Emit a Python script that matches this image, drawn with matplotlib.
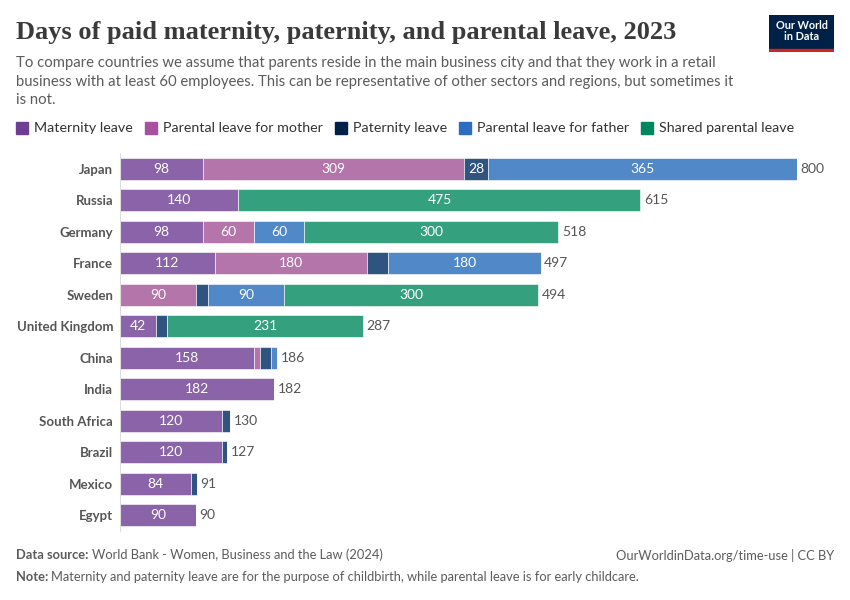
import numpy as np
import matplotlib.pyplot as plt
from matplotlib.patches import Rectangle

plt.rcParams['font.family'] = ['Lato', 'DejaVu Sans']

# --- Data (days of leave, 2023) ---
countries = ['Japan', 'Russia', 'Germany', 'France', 'Sweden', 'United Kingdom',
             'China', 'India', 'South Africa', 'Brazil', 'Mexico', 'Egypt']
maternity = [98, 140, 98, 112, 0, 42, 158, 182, 120, 120, 84, 90]
parental_mother = [309, 0, 60, 180, 90, 0, 7, 0, 0, 0, 0, 0]
paternity = [28, 0, 0, 25, 14, 14, 13, 0, 10, 7, 7, 0]
parental_father = [365, 0, 60, 180, 90, 0, 8, 0, 0, 0, 0, 0]
shared = [0, 475, 300, 0, 300, 231, 0, 0, 0, 0, 0, 0]

series_names = ['Maternity leave', 'Parental leave for mother', 'Paternity leave',
                'Parental leave for father', 'Shared parental leave']
series = [maternity, parental_mother, paternity, parental_father, shared]
bar_colors = ['#8a63a8', '#b475ab', '#2f5480', '#5088c8', '#34a07e']
legend_colors = ['#6d3e91', '#a652a0', '#002147', '#2c6cc1', '#00875e']

W, H = 850, 600
fig = plt.figure(figsize=(W / 100, H / 100), dpi=100)

def px(x, y):
    return x / W, 1 - y / H

def text_right_edge(t):
    fig.canvas.draw()
    return t.get_window_extent().x1

# --- Bars ---
ax_l, ax_r, ax_t, ax_b = 120, 797, 153.3, 530.7
ax = fig.add_axes([ax_l / W, 1 - ax_b / H, (ax_r - ax_l) / W, (ax_b - ax_t) / H])
n = len(countries)
y = np.arange(n)
left = np.zeros(n)
for vals, c in zip(series, bar_colors):
    vals = np.array(vals, dtype=float)
    ax.barh(y, vals, left=left, height=0.7, color=c, edgecolor='white', linewidth=0.4)
    for i, v in enumerate(vals):
        if v >= 27:
            ax.text(left[i] + v / 2, i, f'{int(v)}', ha='center', va='center',
                    color='white', fontsize=10)
    left += vals
for i, tot in enumerate(left):
    ax.text(tot + 4, i, f'{int(tot)}', ha='left', va='center', color='#555555', fontsize=10)

ax.set_xlim(0, 800)
ax.set_ylim(n - 0.5, -0.5)
ax.set_yticks(y)
ax.set_yticklabels(countries, fontsize=9.5, fontweight='bold', color='#555555')
ax.tick_params(axis='y', length=0, pad=5)
ax.set_xticks([])
for s in ['top', 'right', 'bottom']:
    ax.spines[s].set_visible(False)
ax.spines['left'].set_color('#dddddd')
ax.set_facecolor('none')

# --- Title & subtitle ---
title = fig.text(*px(16, 33), 'Days of paid maternity, paternity, and parental leave, 2023',
                 fontsize=18, fontweight='bold', family=['Liberation Serif', 'DejaVu Serif'],
                 color='#3a3a3a', va='center')
w = text_right_edge(title) - 16
title.set_fontsize(18 * 659 / w)
subtitle = ('To compare countries we assume that parents reside in the main business city and that they work in a retail\n'
            'business with at least 60 employees. This can be representative of other sectors and regions, but sometimes it\n'
            'is not.')
fig.text(*px(16, 56), subtitle, fontsize=10.7, color='#5b5b5b', va='top', linespacing=1.42)

# --- Logo ---
logo = fig.add_axes([769 / W, 1 - 52 / H, 65 / W, 37 / H])
logo.add_patch(Rectangle((0, 0.08), 1, 0.92, color='#002147'))
logo.add_patch(Rectangle((0, 0), 1, 0.08, color='#ce261e'))
logo.text(0.5, 0.56, 'Our World\nin Data', ha='center', va='center', color='white',
          fontsize=7.8, fontweight='bold', linespacing=1.0)
logo.set_xlim(0, 1)
logo.set_ylim(0, 1)
logo.axis('off')

# --- Legend ---
lx = 16
for name, c in zip(series_names, legend_colors):
    fig.patches.append(Rectangle(px(lx, 134), 12 / W, 12 / H, color=c, transform=fig.transFigure))
    t = fig.text(*px(lx + 18, 128), name, fontsize=10.3, color='#333333', va='center')
    lx = text_right_edge(t) + 12

# --- Footer ---
def footer(y, label, rest):
    b = fig.text(*px(16, y), label, fontsize=9.3, fontweight='bold', color='#5b5b5b', va='center')
    x = text_right_edge(b) + 3
    fig.text(*px(x, y), rest, fontsize=9.3, color='#5b5b5b', va='center')

footer(555, 'Data source:', 'World Bank - Women, Business and the Law (2024)')
footer(577, 'Note:', 'Maternity and paternity leave are for the purpose of childbirth, while parental leave is for early childcare.')
fig.text(*px(834, 555), 'OurWorldinData.org/time-use | CC BY', fontsize=9.3,
         color='#5b5b5b', va='center', ha='right')

fig.savefig('out.png', dpi=100)
